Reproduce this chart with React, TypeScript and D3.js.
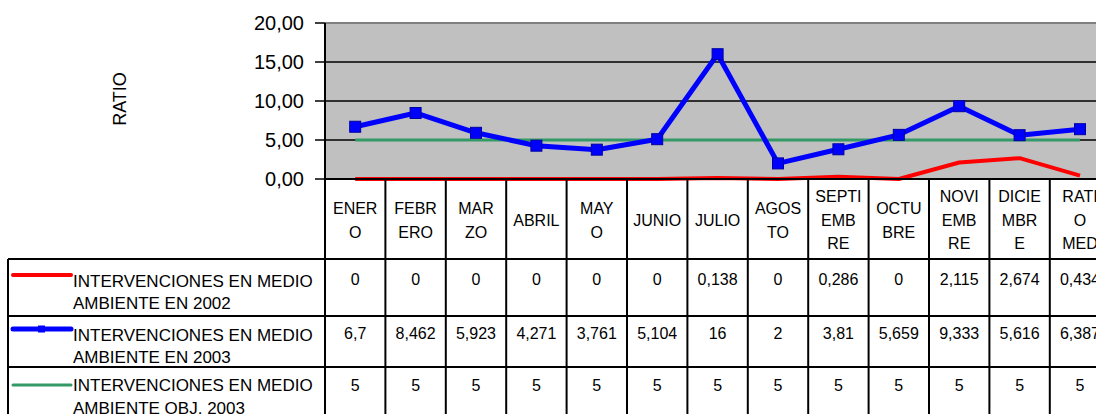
import React from "react";
import * as d3 from "d3";

const categories = ["ENERO","FEBRERO","MARZO","ABRIL","MAYO","JUNIO","JULIO","AGOSTO","SEPTIEMBRE","OCTUBRE","NOVIEMBRE","DICIEMBRE","RATIO MEDIO"];
const headerLines = [["ENER","O"],["FEBR","ERO"],["MAR","ZO"],["ABRIL"],["MAY","O"],["JUNIO"],["JULIO"],["AGOS","TO"],["SEPTI","EMB","RE"],["OCTU","BRE"],["NOVI","EMB","RE"],["DICIE","MBR","E"],["RATI","O","MED"]];
const series2002 = [0,0,0,0,0,0,0.138,0,0.286,0,2.115,2.674,0.434];
const series2003 = [6.7,8.462,5.923,4.271,3.761,5.104,16,2,3.81,5.659,9.333,5.616,6.387];
const seriesObj = [5,5,5,5,5,5,5,5,5,5,5,5,5];
const seriesNames = [["INTERVENCIONES EN MEDIO","AMBIENTE EN 2002"],["INTERVENCIONES EN MEDIO","AMBIENTE EN 2003"],["INTERVENCIONES EN MEDIO","AMBIENTE OBJ. 2003"]];
const yTicks = [0,5,10,15,20];

const font = "'Liberation Sans', Arial, sans-serif";

export default function App() {
  const W = 1096, H = 414;
  const left = 325, top = 23, bottom = 179;
  const colW = 60.4;
  const x = d3.scaleBand<string>().domain(categories).range([left, left + colW * categories.length]).padding(0);
  const y = d3.scaleLinear().domain([0, 20]).range([bottom, top]);
  const cx = (i: number) => (x(categories[i]) as number) + x.bandwidth() / 2;
  const line = d3.line<number>().x((_, i) => cx(i)).y(d => y(d));
  const fmt = (v: number) => String(v).replace(".", ",");
  const right = left + colW * categories.length;
  const rowLines = [259, 316, 367, 420];
  const rows = [
    { data: series2002, color: "#ff0000", w: 4, marker: false, lineY: 275, valY: 279, textY: [281, 303] },
    { data: series2003, color: "#0000ff", w: 5, marker: true, lineY: 329, valY: 333, textY: [335, 357] },
    { data: seriesObj, color: "#339966", w: 3, marker: false, lineY: 385, valY: 385, textY: [385, 408] },
  ];
  const headerCy = 220;
  const lh = 23.5;
  return (
    <svg width={W} height={H} style={{ position: "absolute", left: 0, top: 0, background: "#fff" }} fontFamily={font}>
      <rect x={0} y={0} width={W} height={H} fill="#fff" />
      {/* plot area */}
      <rect x={left} y={top} width={right - left} height={bottom - top} fill="#c0c0c0" />
      <line x1={left} x2={right} y1={top} y2={top} stroke="#808080" strokeWidth={2} />
      {yTicks.filter(t => t > 0 && t < 20).map(t => (
        <line key={t} x1={left} x2={right} y1={y(t)} y2={y(t)} stroke="#000" strokeWidth={1.5} />
      ))}
      {yTicks.map(t => (
        <g key={"t" + t}>
          <line x1={left - 10} x2={left} y1={y(t)} y2={y(t)} stroke="#000" strokeWidth={1.5} />
          <text x={304} y={y(t)} dy="0.36em" textAnchor="end" fontSize={20} fill="#000">{d3.format(".2f")(t).replace(".", ",")}</text>
        </g>
      ))}
      <text transform={`translate(126,${(top + bottom) / 2 - 2}) rotate(-90)`} textAnchor="middle" fontSize={18} fill="#000">RATIO</text>
      {/* series */}
      <path d={line(seriesObj) as string} fill="none" stroke="#339966" strokeWidth={3} />
      <path d={line(series2002) as string} fill="none" stroke="#ff0000" strokeWidth={4} strokeLinejoin="round" />
      <path d={line(series2003) as string} fill="none" stroke="#0000ff" strokeWidth={5} strokeLinejoin="round" />
      {series2003.map((v, i) => (
        <rect key={i} x={cx(i) - 5.5} y={y(v) - 5.5} width={11} height={11} fill="#0000ff" stroke="#0000a0" strokeWidth={1} />
      ))}
      {/* axes */}
      <line x1={left} x2={left} y1={top} y2={H + 10} stroke="#000" strokeWidth={2} />
      <line x1={left} x2={right} y1={bottom} y2={bottom} stroke="#000" strokeWidth={2} />
      {/* table */}
      {categories.map((c, i) => (
        <line key={"v" + i} x1={(x(c) as number) + colW} x2={(x(c) as number) + colW} y1={bottom} y2={H + 10} stroke="#000" strokeWidth={2} />
      ))}
      <line x1={8} x2={8} y1={rowLines[0]} y2={H + 10} stroke="#000" strokeWidth={2} />
      {rowLines.map((ry, i) => (
        <line key={"h" + i} x1={8} x2={right} y1={ry} y2={ry} stroke="#000" strokeWidth={2} />
      ))}
      {headerLines.map((lines, i) => (
        <g key={"hd" + i}>
          {lines.map((s, j) => (
            <text key={j} x={cx(i)} y={headerCy + (j - (lines.length - 1) / 2) * lh} dy="0.36em" textAnchor="middle" fontSize={16} fill="#000">{s}</text>
          ))}
        </g>
      ))}
      {rows.map((r, ri) => (
        <g key={"r" + ri}>
          <line x1={13} x2={71} y1={r.lineY} y2={r.lineY} stroke={r.color} strokeWidth={r.w} strokeLinecap="round" />
          {r.marker && <rect x={38} y={r.lineY - 3.5} width={7} height={7} fill={r.color} />}
          {seriesNames[ri].map((s, j) => (
            <text key={j} x={73} y={r.textY[j]} dy="0.36em" fontSize={17} fill="#000">{s}</text>
          ))}
          {r.data.map((v, i) => (
            <text key={i} x={cx(i)} y={r.valY} dy="0.36em" textAnchor="middle" fontSize={16} fill="#000">{fmt(v)}</text>
          ))}
        </g>
      ))}
    </svg>
  );
}
